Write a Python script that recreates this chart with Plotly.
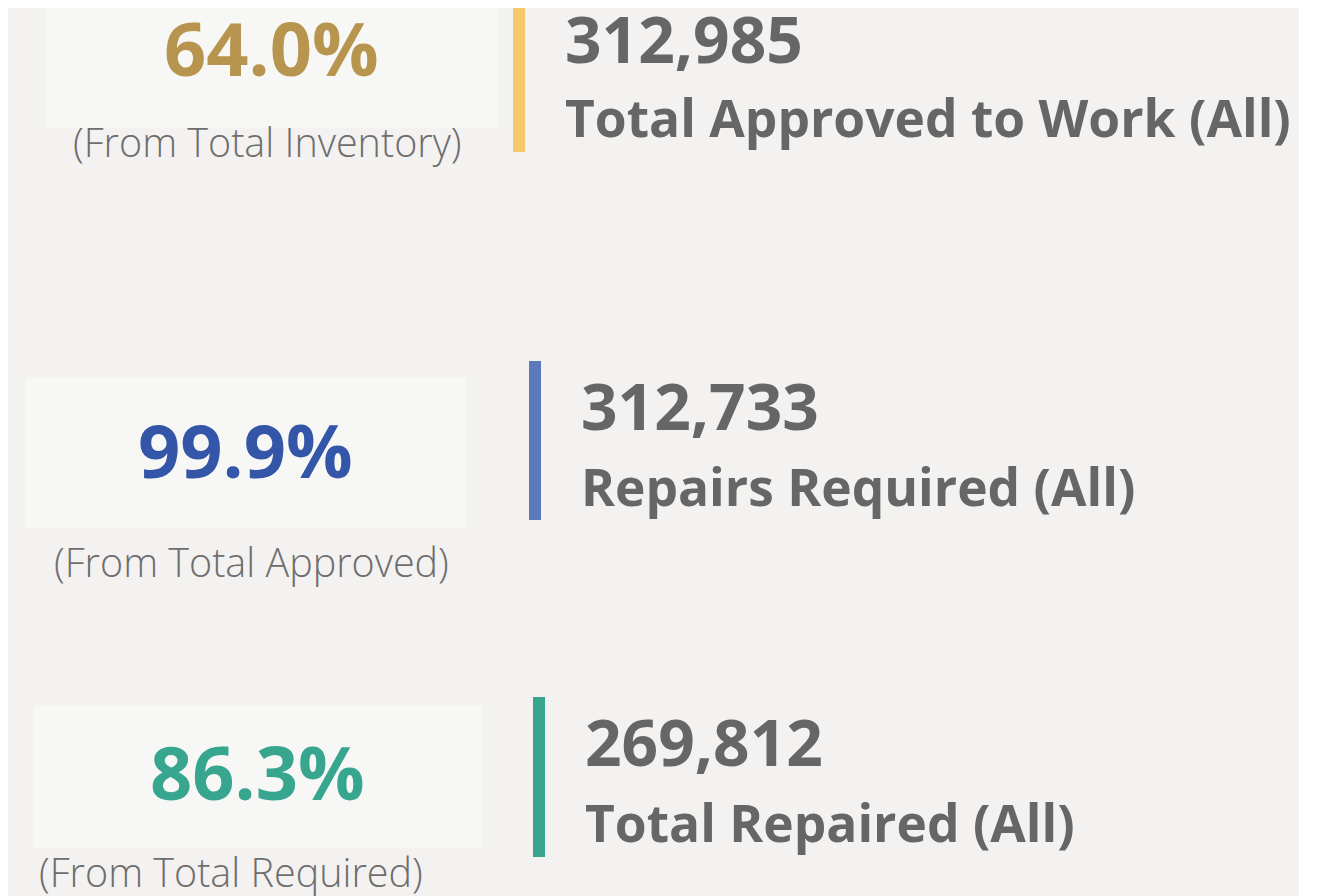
import plotly.graph_objects as go

# ----------------------------
# KPI values
# ----------------------------
pct_values = [64.0, 99.9, 86.3]
pct_notes = ["(From Total Inventory)", "(From Total Approved)", "(From Total Required)"]
totals = [312985, 312733, 269812]
total_labels = ["Total Approved to Work (All)", "Repairs Required (All)", "Total Repaired (All)"]
pct_colors = ["#b8954f", "#3356a8", "#38a68f"]
bar_colors = ["#f5c869", "#5b7abd", "#38a68f"]

# card layout (page pixels, y grows downward)
boxes = [(46, 497, -5, 128), (25, 465, 377, 528), (33, 481, 705, 848)]
pct_y = [47, 449, 771]
note_xy = [(267, 142), (251, 562), (231, 872)]
bars = [(513, 525, -5, 152), (529, 541, 361, 520), (533, 545, 697, 857)]
num_y = [38, 405, 741]
lab_y = [117, 486, 822]

FONT = "Open Sans"
GREY = "#666666"

# page body has an 8px offset, so shift the axes to keep data = page pixels
OFF = 8

fig = go.Figure()
shapes = []
annotations = []

# page background (ends before right edge)
shapes.append(dict(type="rect", x0=-10, x1=1299, y0=-10, y1=920, xref="x", yref="y",
                   fillcolor="#f3f2f1", line_width=0, layer="below"))

for i in range(3):
    bx0, bx1, by0, by1 = boxes[i]
    shapes.append(dict(type="rect", x0=bx0, x1=bx1, y0=by0, y1=by1, xref="x", yref="y",
                       fillcolor="#f7f7f5", line_width=0, layer="below"))
    rx0, rx1, ry0, ry1 = bars[i]
    shapes.append(dict(type="rect", x0=rx0, x1=rx1, y0=ry0, y1=ry1, xref="x", yref="y",
                       fillcolor=bar_colors[i], line_width=0, layer="below"))

    annotations.append(dict(x=(bx0 + bx1) / 2, y=pct_y[i], xref="x", yref="y",
                            text=f"{pct_values[i]:.1f}%", showarrow=False,
                            xanchor="center", yanchor="middle",
                            font=dict(family=FONT, size=74, color=pct_colors[i], weight=700)))
    nx, ny = note_xy[i]
    annotations.append(dict(x=nx, y=ny, xref="x", yref="y", text=pct_notes[i], showarrow=False,
                            xanchor="center", yanchor="middle",
                            font=dict(family=FONT, size=39.5, color="#6e6e6e", weight=300)))
    annotations.append(dict(x=rx1 + 38, y=num_y[i], xref="x", yref="y",
                            text=f"{totals[i]:,}", showarrow=False,
                            xanchor="left", yanchor="middle",
                            font=dict(family=FONT, size=64, color=GREY, weight=700)))
    annotations.append(dict(x=rx1 + 38, y=lab_y[i], xref="x", yref="y",
                            text=total_labels[i], showarrow=False,
                            xanchor="left", yanchor="middle",
                            font=dict(family=FONT, size=51.5, color=GREY, weight=700)))

fig.update_layout(
    width=1332, height=896,
    margin=dict(l=0, r=0, t=0, b=0),
    paper_bgcolor="#ffffff", plot_bgcolor="#ffffff",
    shapes=shapes, annotations=annotations,
    xaxis=dict(range=[OFF, 1332 + OFF], visible=False, fixedrange=True),
    yaxis=dict(range=[896 + OFF, OFF], visible=False, fixedrange=True),
    showlegend=False,
)

fig.write_html("out.html", config={"displayModeBar": False})
